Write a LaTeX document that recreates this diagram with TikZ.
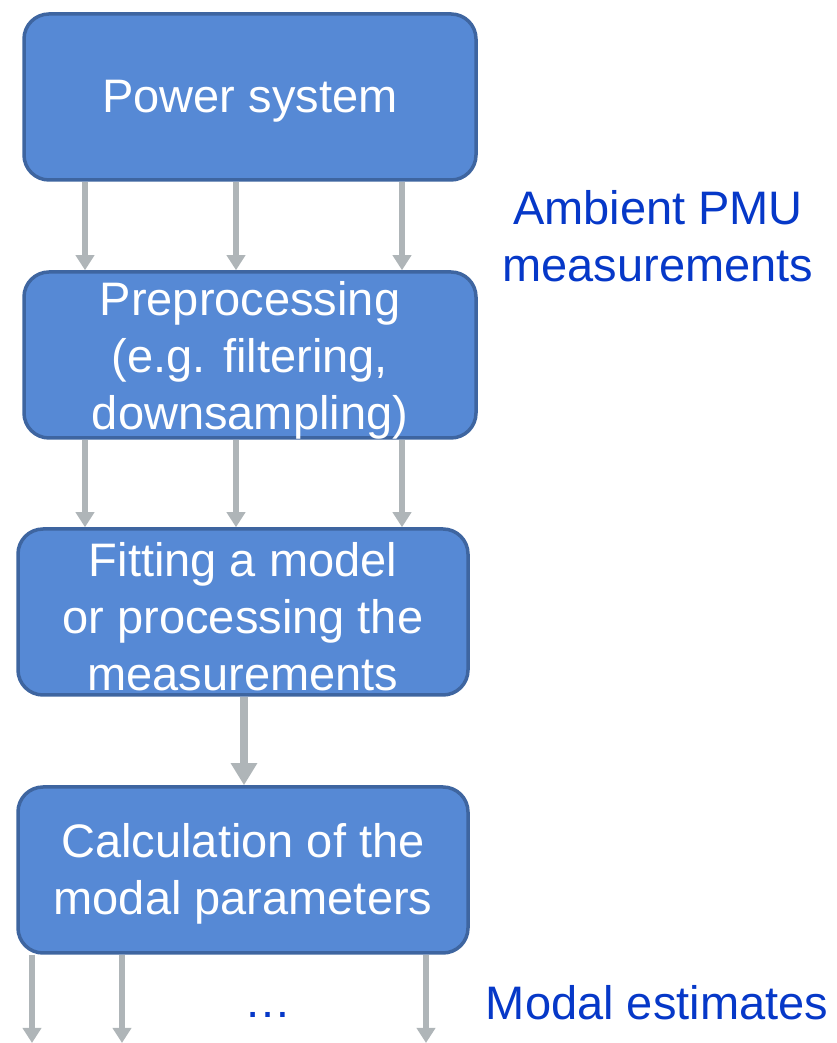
\documentclass[tikz,border=0pt]{standalone}
\usepackage{fontspec}
\setmainfont{Liberation Sans}
\usetikzlibrary{arrows.meta}
\definecolor{boxfill}{HTML}{5689D5}
\definecolor{boxline}{HTML}{3E65A0}
\definecolor{arrgray}{HTML}{AFB5B8}
\definecolor{lblue}{HTML}{0638C8}
\tikzset{
  stepbox/.style={draw=boxline, line width=3.5pt, fill=boxfill, rounded corners=25pt,
    minimum width=452pt, minimum height=166pt, inner sep=0pt},
  boxtext/.style={align=center, text=white, inner sep=0pt, font=\fontsize{47}{57}\selectfont},
  arr/.style={draw=arrgray, line width=5.5pt, -{Triangle[width=18pt,length=15pt]}},
  bigarr/.style={draw=arrgray, line width=7.5pt, -{Triangle[width=25pt,length=22pt]}},
  lbl/.style={text=lblue, align=center, font=\fontsize{47}{57}\selectfont, inner sep=0pt}
}
\begin{document}
\begin{tikzpicture}[x=1pt,y=1pt]
\useasboundingbox (0,0) rectangle (837,1043);
\node[stepbox] (b1) at (250,946) {};
\node[stepbox] (b2) at (250,688) {};
\node[stepbox, minimum width=450pt] (b3) at (243,431) {};
\node[stepbox, minimum width=450pt] (b4) at (243,173) {};
\node[boxtext] (t1) at ([yshift=-4pt]b1.center) {Power system};
\node[boxtext] (t2) at ([yshift=-5pt]b2.center) {Preprocessing\\(e.g. filtering,\\downsampling)};
\node[boxtext] (t3) at ([yshift=-5pt]b3.center) {Fitting a model\\or processing the\\measurements};
\node[boxtext] (t4) at ([yshift=-4pt]b4.center) {Calculation of the\\modal parameters};
\coordinate (c1) at (85,0);
\coordinate (c2) at (236,0);
\coordinate (c3) at (402,0);
\coordinate (c4) at (244,0);
\coordinate (e1) at (32,0);
\coordinate (e2) at (122,0);
\coordinate (e3) at (426,0);
\foreach \c in {c1,c2,c3} {
  \draw[arr] (b1.south -| \c) -- (b2.north -| \c);
  \draw[arr] (b2.south -| \c) -- (b3.north -| \c);
}
\draw[bigarr] (b3.south -| c4) -- (b4.north -| c4);
\foreach \e in {e1,e2,e3} {
  \draw[arr] (b4.south -| \e) -- (\e);
}
\node[lbl] (amb) at (658,807) {Ambient PMU\\measurements};
\node[lbl] (mod) at (657,40) {Modal estimates};
\node[lbl] (dots) at (268,28) {…};
\end{tikzpicture}
\end{document}
